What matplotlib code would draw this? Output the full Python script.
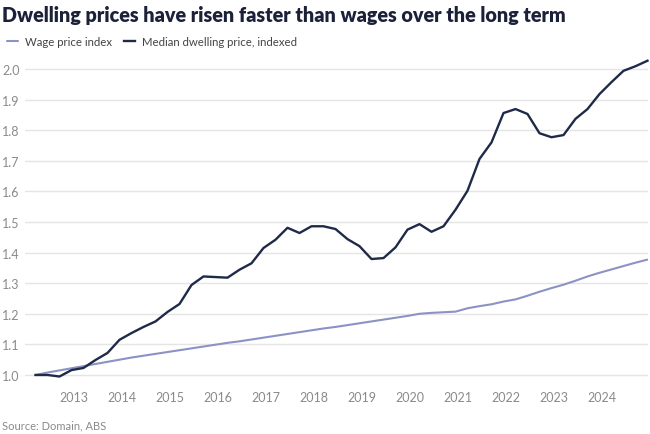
import matplotlib
matplotlib.use("Agg")
import matplotlib.pyplot as plt
import numpy as np
import pandas as pd

# quarterly data, Mar 2012 to Dec 2024, indexed to 1.0
quarters = pd.period_range("2012Q1", "2024Q4", freq="Q")

dwelling = [1.000, 1.000, 0.995, 1.016, 1.023, 1.049, 1.072, 1.115, 1.137, 1.157, 1.175, 1.206, 1.232,
            1.294, 1.322, 1.320, 1.318, 1.344, 1.365, 1.415, 1.442, 1.481, 1.464, 1.486, 1.486, 1.477,
            1.444, 1.421, 1.379, 1.382, 1.417, 1.475, 1.493, 1.468, 1.486, 1.540, 1.602, 1.706, 1.760,
            1.856, 1.869, 1.853, 1.790, 1.777, 1.784, 1.837, 1.869, 1.918, 1.957, 1.994, 2.009, 2.027]

wages = [1.000, 1.008, 1.015, 1.022, 1.029, 1.036, 1.043, 1.050, 1.057, 1.063, 1.069, 1.075, 1.081,
         1.087, 1.093, 1.099, 1.105, 1.110, 1.116, 1.122, 1.128, 1.134, 1.140, 1.146, 1.152, 1.157,
         1.163, 1.169, 1.175, 1.181, 1.187, 1.193, 1.200, 1.203, 1.205, 1.207, 1.218, 1.225, 1.231,
         1.240, 1.247, 1.259, 1.272, 1.284, 1.295, 1.308, 1.322, 1.334, 1.345, 1.356, 1.367, 1.377]

years = list(range(2013, 2025))
yticks = [1.0, 1.1, 1.2, 1.3, 1.4, 1.5, 1.6, 1.7, 1.8, 1.9, 2.0]

title = "Dwelling prices have risen faster than wages over the long term"
source = "Source: Domain, ABS"

plt.rcParams["font.family"] = ["Lato", "DejaVu Sans"]

# position of each quarter in decimal years (middle of the last month)
t = np.array([q.year + (q.quarter * 3 - 0.5) / 12 for q in quarters])

fig = plt.figure(figsize=(6.5, 4.35), dpi=100)
ax = fig.add_axes([0.0385, 0.1216, 0.9585, 0.7527])

ax.plot(t, wages, color="#8b93c4", lw=1.5, label="Wage price index", solid_capstyle="round")
ax.plot(t, dwelling, color="#1f2a48", lw=1.7, label="Median dwelling price, indexed",
        solid_joinstyle="round", clip_on=False)

ax.set_xlim(2011.99, 2024.97)
ax.set_ylim(0.98, 2.05)
ax.set_yticks(yticks)
ax.set_yticklabels(["%.1f" % v for v in yticks])
ax.set_xticks(years)
ax.set_xticklabels([str(y) for y in years])

ax.grid(axis="y", color="#e5e5e5", lw=1)
ax.set_axisbelow(True)
for s in ax.spines.values():
    s.set_visible(False)
ax.tick_params(axis="both", length=0, labelsize=9, labelcolor="#8a8a8a")
ax.tick_params(axis="y", pad=16.5)
for lab in ax.get_yticklabels():
    lab.set_horizontalalignment("left")
ax.tick_params(axis="x", pad=7)

fig.text(0.003, 0.965, title, fontsize=14.2, fontweight="heavy", color="#1b2138", va="center")
fig.legend(loc="center left", bbox_to_anchor=(-0.005, 0.903), ncol=2, frameon=False,
           fontsize=8.2, handlelength=1.0, handletextpad=0.6, columnspacing=1.0,
           labelcolor="#444444")
fig.text(0.003, 0.022, source, fontsize=8, color="#8a8a8a", va="center")

fig.savefig("out.png", dpi=100)
